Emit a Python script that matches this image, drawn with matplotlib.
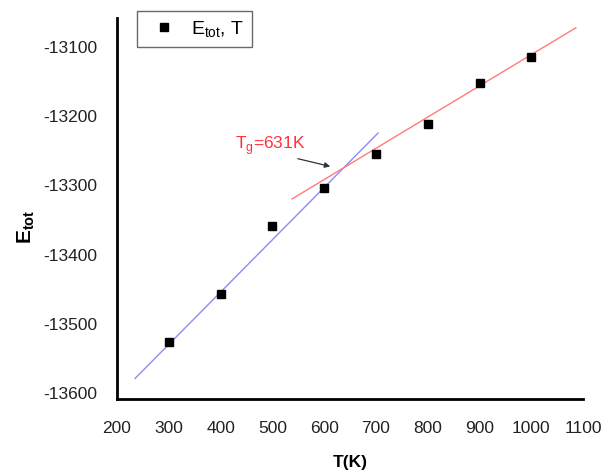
import matplotlib.pyplot as plt

plt.rcParams["font.family"] = ["Liberation Sans", "DejaVu Sans"]
plt.rcParams["axes.unicode_minus"] = False

# data
temps = [300, 400, 500, 600, 700, 800, 900, 1000]
e_tot = [-13528, -13458, -13360, -13305, -13256, -13213, -13153, -13116]

# fitted lines (end points as drawn)
low_fit_x = [235, 704]
low_fit_y = [-13580, -13226]
high_fit_x = [538, 1086]
high_fit_y = [-13321, -13074]

xticks = [200, 300, 400, 500, 600, 700, 800, 900, 1000, 1100]
yticks = [-13600, -13500, -13400, -13300, -13200, -13100]

fig = plt.figure(figsize=(6.03, 4.77), dpi=100)
ax = fig.add_axes([0.194, 0.161, 0.773, 0.799])

ax.plot(low_fit_x, low_fit_y, color="#8c8cf0", lw=1.0)
ax.plot(high_fit_x, high_fit_y, color="#ff7b7b", lw=1.0)
ax.plot(temps, e_tot, "s", color="black", ms=5.5, label=r"E$_{\mathregular{tot}}$, T")

ax.annotate("", xy=(617, -13275), xytext=(544, -13262),
            arrowprops=dict(arrowstyle="-|>", color="#333333", lw=0.9,
                            mutation_scale=8))
ax.text(428, -13242, r"T$_{\mathregular{g}}$=631K", color="#ff3340",
        fontsize=12.5, va="center", ha="left")

ax.set_xlim(200, 1100)
ax.set_ylim(-13610, -13060)
ax.set_xticks(xticks)
ax.set_yticks(yticks)
ax.tick_params(length=0, labelsize=12.5, colors="#222222")
ax.tick_params(axis="x", pad=15)
ax.tick_params(axis="y", pad=14)
for s in ["top", "right"]:
    ax.spines[s].set_visible(False)
for s in ["left", "bottom"]:
    ax.spines[s].set_linewidth(2)

ax.set_xlabel("T(K)", fontsize=12.5, fontweight="bold", labelpad=14)
fig.text(0.043, 0.525, r"E$_{\mathregular{tot}}$", rotation=90, fontsize=15,
         fontweight="bold", ha="center", va="center")

leg = ax.legend(loc="upper left", bbox_to_anchor=(137 / 603, 1 - 12 / 477),
                bbox_transform=fig.transFigure, fontsize=14, frameon=True,
                fancybox=False, handletextpad=0.4, borderpad=0.4,
                handlelength=2.0, borderaxespad=0)
leg.get_frame().set_edgecolor("#444444")
leg.get_frame().set_linewidth(1.0)

fig.savefig("out.png", dpi=100)
